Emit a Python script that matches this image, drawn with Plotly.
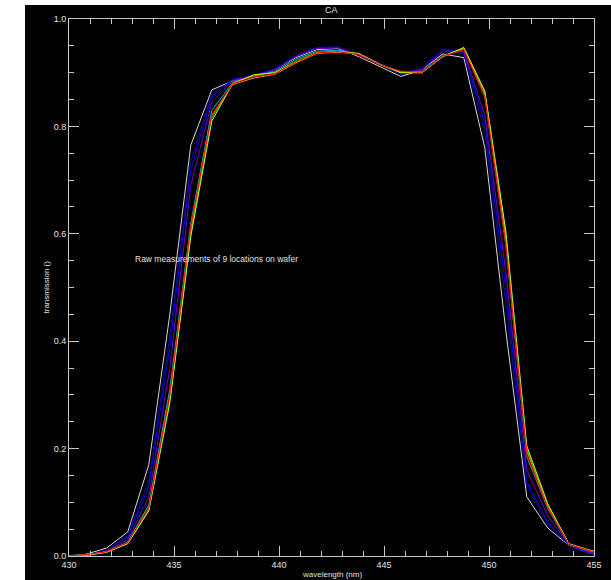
import plotly.graph_objects as go

wavelength = [429.8 + i for i in range(27)]

series_names = ["loc 1", "loc 2", "loc 3", "loc 4", "loc 5", "loc 6", "loc 7", "loc 8", "loc 9"]
series_colors = ["#d8d8d8", "#10108a", "#0000ff", "#7000c0", "#00b8e8", "#00d000", "#c8ff00", "#ff8c00", "#ff0000"]

loc1 = [0.000, 0.003, 0.015, 0.045, 0.170, 0.450, 0.765, 0.868, 0.885, 0.893, 0.905, 0.928, 0.943, 0.945,
        0.930, 0.912, 0.893, 0.905, 0.935, 0.928, 0.760, 0.420, 0.110, 0.052, 0.020, 0.005, 0.000]
loc2 = [0.000, 0.002, 0.010, 0.038, 0.140, 0.410, 0.735, 0.860, 0.887, 0.893, 0.905, 0.930, 0.945, 0.947,
        0.932, 0.915, 0.897, 0.905, 0.942, 0.935, 0.790, 0.470, 0.130, 0.060, 0.020, 0.006, 0.001]
loc3 = [0.000, 0.002, 0.010, 0.035, 0.130, 0.390, 0.720, 0.855, 0.888, 0.895, 0.907, 0.932, 0.947, 0.948,
        0.934, 0.917, 0.898, 0.908, 0.944, 0.938, 0.806, 0.500, 0.138, 0.063, 0.020, 0.005, 0.001]
loc4 = [0.000, 0.002, 0.009, 0.030, 0.110, 0.350, 0.690, 0.845, 0.885, 0.894, 0.905, 0.930, 0.945, 0.946,
        0.933, 0.915, 0.900, 0.905, 0.940, 0.940, 0.820, 0.530, 0.160, 0.075, 0.022, 0.007, 0.001]
loc5 = [0.000, 0.002, 0.008, 0.026, 0.095, 0.310, 0.620, 0.830, 0.882, 0.894, 0.902, 0.925, 0.940, 0.942,
        0.935, 0.915, 0.902, 0.902, 0.932, 0.945, 0.855, 0.580, 0.185, 0.088, 0.022, 0.009, 0.002]
loc6 = [0.000, 0.001, 0.007, 0.024, 0.086, 0.290, 0.600, 0.815, 0.880, 0.895, 0.900, 0.922, 0.938, 0.940,
        0.935, 0.915, 0.900, 0.900, 0.930, 0.946, 0.864, 0.600, 0.200, 0.095, 0.022, 0.010, 0.002]
loc7 = [0.000, 0.001, 0.007, 0.023, 0.084, 0.285, 0.595, 0.810, 0.880, 0.896, 0.900, 0.920, 0.937, 0.939,
        0.936, 0.916, 0.900, 0.900, 0.930, 0.947, 0.866, 0.605, 0.205, 0.097, 0.023, 0.011, 0.003]
loc8 = [0.000, 0.002, 0.008, 0.025, 0.090, 0.300, 0.610, 0.820, 0.878, 0.890, 0.897, 0.918, 0.936, 0.938,
        0.935, 0.915, 0.902, 0.900, 0.930, 0.944, 0.860, 0.590, 0.195, 0.092, 0.022, 0.010, 0.002]
loc9 = [0.000, 0.002, 0.008, 0.025, 0.090, 0.300, 0.615, 0.822, 0.880, 0.892, 0.898, 0.920, 0.937, 0.939,
        0.934, 0.915, 0.903, 0.901, 0.931, 0.943, 0.855, 0.580, 0.188, 0.090, 0.022, 0.010, 0.002]

series_values = [loc1, loc2, loc3, loc4, loc5, loc6, loc7, loc8, loc9]

x_tick_values = [430, 435, 440, 445, 450, 455]
y_tick_values = [0.0, 0.2, 0.4, 0.6, 0.8, 1.0]

fig = go.Figure()
for name, color, vals in zip(series_names, series_colors, series_values):
    fig.add_trace(go.Scatter(x=wavelength, y=vals, mode="lines", name=name,
                             line=dict(color=color, width=1)))

axis_color = "#c8c8c8"
text_color = "#e0e0e0"
font = dict(family="Liberation Sans, Arial, sans-serif", size=9, color=text_color)

L, R, T, B = 69, 17, 19, 24
W, H = 611, 580
pw, ph = W - L - R, H - T - B


def px_x(p):
    return (p - L) / pw


def px_y(p):
    return (H - B - p) / ph


fig.update_layout(
    width=W, height=H,
    margin=dict(l=L, r=R, t=T, b=B, autoexpand=False),
    paper_bgcolor="white",
    plot_bgcolor="black",
    showlegend=False,
    font=font,
    shapes=[dict(type="rect", xref="paper", yref="paper", layer="below",
                 x0=px_x(25), x1=px_x(620), y0=px_y(590), y1=px_y(5),
                 fillcolor="black", line=dict(width=0))],
    annotations=[
        dict(text="Raw measurements of 9 locations on wafer", x=433.05, y=0.553,
             xref="x", yref="y", xanchor="left", yanchor="middle", showarrow=False,
             font=dict(size=8.5, color=text_color)),
        dict(text="CA", x=0.5, y=px_y(10), xref="paper", yref="paper",
             xanchor="center", yanchor="middle", showarrow=False,
             font=dict(size=9, color=text_color)),
        dict(text="wavelength (nm)", x=0.5, y=px_y(574), xref="paper", yref="paper",
             xanchor="center", yanchor="middle", showarrow=False,
             font=dict(size=8, color=text_color)),
        dict(text="transmission ()", x=px_x(46), y=0.5, xref="paper", yref="paper",
             xanchor="center", yanchor="middle", showarrow=False, textangle=-90,
             font=dict(size=8, color=text_color)),
    ],
)

fig.update_xaxes(
    range=[430, 455], tickvals=x_tick_values, ticktext=[str(v) for v in x_tick_values],
    ticks="inside", ticklen=10, tickwidth=1, tickcolor=axis_color,
    minor=dict(dtick=1, ticks="inside", ticklen=5, tickcolor=axis_color),
    showline=True, linecolor=axis_color, linewidth=1, mirror="ticks",
    showgrid=False, zeroline=False, automargin=False,
    tickfont=dict(size=9, color=text_color),
)
fig.update_yaxes(
    range=[0, 1], tickvals=y_tick_values, ticktext=[f"{v:.1f}" for v in y_tick_values],
    ticks="inside", ticklen=10, tickwidth=1, tickcolor=axis_color,
    minor=dict(dtick=0.05, ticks="inside", ticklen=5, tickcolor=axis_color),
    showline=True, linecolor=axis_color, linewidth=1, mirror="ticks",
    showgrid=False, zeroline=False, automargin=False,
    tickfont=dict(size=9, color=text_color),
)

fig.write_html("out.html", config={"displayModeBar": False},
               post_script="document.body.style.margin='0';document.body.style.overflow='hidden';")
